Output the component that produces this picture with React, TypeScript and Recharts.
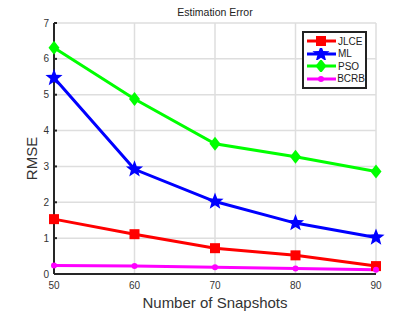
import React from 'react';
import { LineChart, Line, XAxis, YAxis, CartesianGrid, Label } from 'recharts';

// 横軸: スナップショット数
const snapshots = [50, 60, 70, 80, 90];
const jlce = [1.53, 1.11, 0.72, 0.52, 0.22];
const ml = [5.47, 2.92, 2.02, 1.42, 1.02];
const pso = [6.31, 4.88, 3.63, 3.27, 2.86];
const bcrb = [0.24, 0.22, 0.19, 0.15, 0.12];
const yTicks = [0, 1, 2, 3, 4, 5, 6, 7];

const seriesInfo = [
    { key: 'JLCE', color: '#ff0000', marker: 'square' },
    { key: 'ML', color: '#0000ff', marker: 'star' },
    { key: 'PSO', color: '#00ff00', marker: 'diamond' },
    { key: 'BCRB', color: '#ff00ff', marker: 'dot' },
];

const data = snapshots.map((s, i) => ({
    snap: s,
    JLCE: jlce[i],
    ML: ml[i],
    PSO: pso[i],
    BCRB: bcrb[i],
}));

const FONT = '"Liberation Sans", Arial, sans-serif';

const starPath = (cx: number, cy: number, ro: number, ri: number) => {
    let d = '';
    for (let k = 0; k < 10; k++) {
        const r = k % 2 === 0 ? ro : ri;
        const a = -Math.PI / 2 + (k * Math.PI) / 5;
        d += (k === 0 ? 'M' : 'L') + (cx + r * Math.cos(a)).toFixed(2) + ',' + (cy + r * Math.sin(a)).toFixed(2);
    }
    return d + 'Z';
};

const Marker = ({ kind, color, cx, cy }: { kind: string; color: string; cx: number; cy: number }) => {
    if (kind === 'square') return <rect x={cx - 5} y={cy - 5} width={10} height={10} fill={color} />;
    if (kind === 'star') return <path d={starPath(cx, cy, 9, 3.8)} fill={color} />;
    if (kind === 'diamond') return <path d={`M${cx},${cy - 7}L${cx + 5.5},${cy}L${cx},${cy + 7}L${cx - 5.5},${cy}Z`} fill={color} />;
    return <circle cx={cx} cy={cy} r={3} fill={color} />;
};

const makeDot = (kind: string, color: string) => (props: any) => {
    const { cx, cy, index } = props;
    if (cx == null || cy == null) return <g key={index} />;
    return <Marker key={index} kind={kind} color={color} cx={cx} cy={cy} />;
};

const LegendBox = () => (
    <div
        style={{
            position: 'absolute',
            left: 302,
            top: 31,
            border: '2px solid #222',
            background: '#fff',
            width: 61,
            padding: '2px 0',
            fontFamily: FONT,
            fontSize: 10,
            color: '#222',
            boxSizing: 'content-box',
        }}
    >
        {seriesInfo.map(s => (
            <div key={s.key} style={{ display: 'flex', alignItems: 'center', height: 12.5 }}>
                <svg width={34} height={12} style={{ display: 'block' }}>
                    <line x1={3} y1={6} x2={32} y2={6} stroke={s.color} strokeWidth={3} />
                    <Marker kind={s.marker} color={s.color} cx={17} cy={6} />
                </svg>
                <span>{s.key}</span>
            </div>
        ))}
    </div>
);

const App: React.FC = () => {
    return (
        <div style={{ position: 'absolute', left: 0, top: 0, width: 415, height: 312, background: '#fff' }}>
            <LineChart width={415} height={312} data={data} margin={{ top: 23, right: 39, left: 24, bottom: 8 }}>
                <CartesianGrid stroke="#dedede" strokeWidth={1.5} vertical horizontal />
                <XAxis
                    dataKey="snap"
                    type="number"
                    domain={[50, 90]}
                    ticks={snapshots}
                    height={30}
                    axisLine={{ stroke: '#262626', strokeWidth: 2 }}
                    tickLine={false}
                    tick={{ fill: '#333', fontSize: 10, fontFamily: FONT }}
                    tickMargin={2}
                >
                    <Label
                        value="Number of Snapshots"
                        position="insideBottom"
                        offset={-4}
                        style={{ fill: '#333', fontSize: 15, fontFamily: FONT }}
                    />
                </XAxis>
                <YAxis
                    type="number"
                    domain={[0, 7]}
                    ticks={yTicks}
                    width={30}
                    axisLine={{ stroke: '#262626', strokeWidth: 2 }}
                    tickLine={{ stroke: '#262626', strokeWidth: 2 }}
                    tickSize={-3}
                    tickMargin={8}
                    tick={{ fill: '#333', fontSize: 10, fontFamily: FONT }}
                >
                    <Label
                        value="RMSE"
                        angle={-90}
                        position="insideLeft"
                        offset={8}
                        dy={10}
                        style={{ fill: '#333', fontSize: 15, fontFamily: FONT, textAnchor: 'middle' }}
                    />
                </YAxis>
                {seriesInfo.map(s => (
                    <Line
                        key={s.key}
                        dataKey={s.key}
                        stroke={s.color}
                        strokeWidth={3}
                        dot={makeDot(s.marker, s.color)}
                        activeDot={false}
                        isAnimationActive={false}
                    />
                ))}
            </LineChart>
            <div
                style={{
                    position: 'absolute',
                    left: 54,
                    width: 322,
                    top: 6,
                    textAlign: 'center',
                    fontFamily: FONT,
                    fontSize: 10.5,
                    color: '#222',
                }}
            >
                Estimation Error
            </div>
            <LegendBox />
        </div>
    );
};

export default App;
